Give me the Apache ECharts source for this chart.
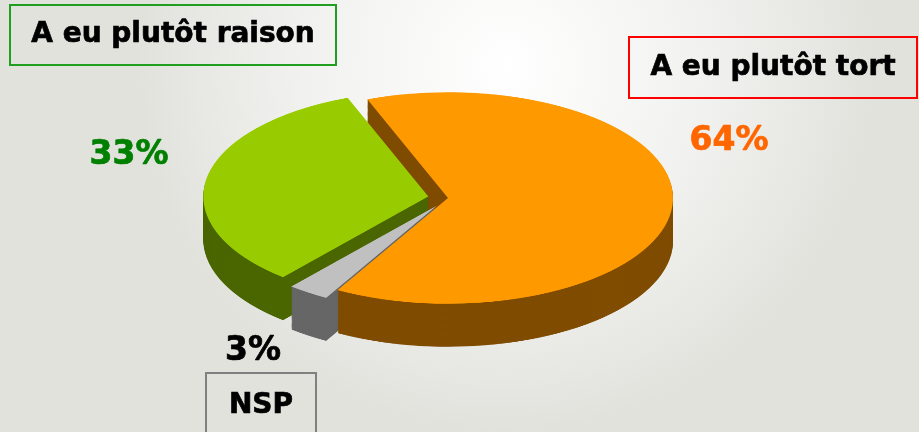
<!DOCTYPE html>
<html>
<head>
<meta charset="utf-8">
<script src="https://cdn.jsdelivr.net/npm/echarts@6/dist/echarts.min.js"></script>
<style>
html,body{margin:0;padding:0;width:919px;height:432px;overflow:hidden;}
#wrap{position:relative;width:919px;height:432px;overflow:hidden;}
#bg{position:absolute;left:0;top:0;width:919px;height:432px;}
#pie{position:absolute;left:0;top:0;width:919px;height:920px;transform-origin:0 0;}
</style>
</head>
<body>
<div id="wrap"><div id="bg"></div><div id="pie"></div></div>
<script>
// ---- data ----
var categories = ['A eu plutôt tort', 'NSP', 'A eu plutôt raison'];
var values = [64, 3, 33];
var exploded = [false, true, true];
var topColors = ['#FF9900', '#C0C0C0', '#99CC00'];
var sideColors = ['#7F4C00', '#666666', '#4A6600'];
var labelColors = ['#FF6600', '#000000', '#008000'];
var boxColors = ['#FF0000', '#808080', '#1F9E1F'];

// ---- pie (drawn flat, squashed into perspective) ----
var squash = 0.47;
var cx = 448, cyTop = 198, depth = 43, radius = 225;
document.getElementById('pie').style.transform = 'scaleY(' + squash + ')';

function pieSeries(d, colors) {
  return {
    type: 'pie',
    radius: radius,
    center: [cx, (cyTop + d) / squash],
    startAngle: 111,
    clockwise: true,
    selectedMode: 'multiple',
    selectedOffset: 20,
    animation: false,
    silent: true,
    label: {show: false},
    labelLine: {show: false},
    emphasis: {disabled: true},
    itemStyle: {borderWidth: 0},
    data: values.map(function (v, i) {
      return {
        value: v, name: categories[i], selected: exploded[i],
        itemStyle: {color: colors[i], borderWidth: 0},
        select: {itemStyle: {color: colors[i], borderWidth: 0}}
      };
    })
  };
}
var series = [];
for (var d = depth; d >= 1; d -= 1) series.push(pieSeries(d, sideColors));
series.push(pieSeries(0, topColors));

var pieChart = echarts.init(document.getElementById('pie'), null, {renderer: 'canvas'});
pieChart.setOption({animation: false, backgroundColor: 'transparent', series: series});

// ---- labels and background ----
var font = '"DejaVu Sans", Verdana, sans-serif';
var total = values.reduce(function (a, b) { return a + b; }, 0);
function pct(i) { return Math.round(values[i] / total * 100) + '%'; }

var boxes = [
  {i: 2, x: 10, y: 5, w: 326, h: 60, ty: 35},
  {i: 0, x: 629, y: 37, w: 288, h: 61, ty: 68},
  {i: 1, x: 206, y: 373, w: 110, h: 70, ty: 406}
];
var pctPos = [
  {i: 0, x: 729, y: 141},
  {i: 1, x: 253, y: 351},
  {i: 2, x: 129, y: 155}
];
var graphics = [];
boxes.forEach(function (b) {
  graphics.push({type: 'rect', shape: {x: b.x, y: b.y, width: b.w, height: b.h},
    style: {fill: 'transparent', stroke: boxColors[b.i], lineWidth: 2}});
  graphics.push({type: 'text', x: b.x + b.w / 2, y: b.ty,
    style: {text: categories[b.i], fill: '#000', stroke: '#000', lineWidth: 0.7,
      font: 'bold 28px ' + font, textAlign: 'center', textVerticalAlign: 'middle'}});
});
pctPos.forEach(function (p) {
  graphics.push({type: 'text', x: p.x, y: p.y,
    style: {text: pct(p.i), fill: labelColors[p.i], stroke: labelColors[p.i], lineWidth: 0.7,
      font: 'bold 33px ' + font, textAlign: 'center', textVerticalAlign: 'middle'}});
});

var bgChart = echarts.init(document.getElementById('bg'), null, {renderer: 'canvas'});
bgChart.setOption({
  animation: false,
  backgroundColor: {
    type: 'radial', x: 0.55, y: 0.15, r: 0.85,
    colorStops: [{offset: 0, color: '#FFFFFF'}, {offset: 0.55, color: '#F1F1EF'}, {offset: 1, color: '#E2E2DD'}]
  },
  graphic: graphics
});
</script>
</body>
</html>
